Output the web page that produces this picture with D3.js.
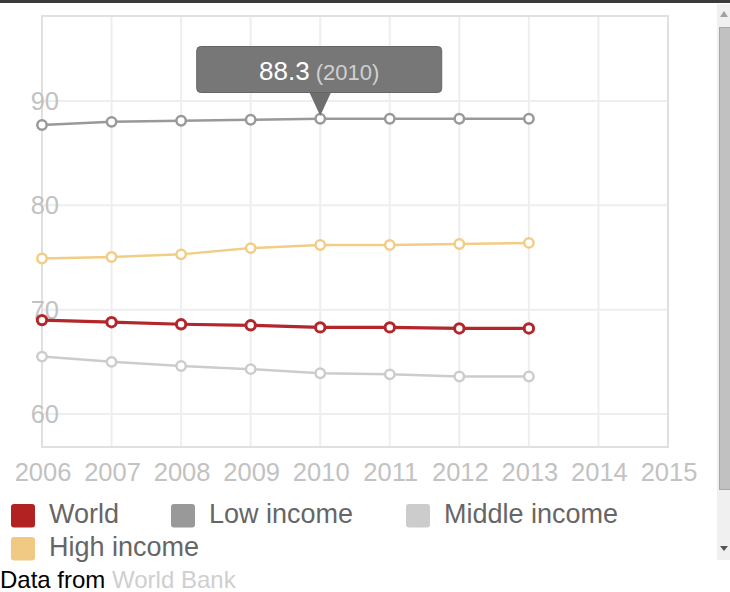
<!DOCTYPE html>
<html>
<head>
<meta charset="utf-8">
<script src="https://cdnjs.cloudflare.com/ajax/libs/d3/7.8.5/d3.min.js"></script>
<style>
	body { margin: 0; background: #fff; overflow: hidden; }
	svg { display: block; font-family: Arial, "Liberation Sans", sans-serif; }
</style>
</head>
<body>
<div id="draw"></div>
<script>
var years = [2006, 2007, 2008, 2009, 2010, 2011, 2012, 2013];
var xTicks = [2006, 2007, 2008, 2009, 2010, 2011, 2012, 2013, 2014, 2015];
var yTicks = [60, 70, 80, 90];
var names = ["World", "Low income", "Middle income", "High income"];
var world = [69.0, 68.8, 68.6, 68.5, 68.3, 68.3, 68.2, 68.2];
var lowIncome = [87.7, 88.0, 88.1, 88.2, 88.3, 88.3, 88.3, 88.3];
var middleIncome = [65.5, 65.0, 64.6, 64.3, 63.9, 63.8, 63.6, 63.6];
var highIncome = [74.9, 75.05, 75.3, 75.9, 76.2, 76.2, 76.3, 76.4];
var tipSeries = 1, tipIndex = 4;

function drawChart() {
	var width = 730, height = 592;
	var colors = ["#b3262b", "#999999", "#cccccc", "#f2cd86"];
	var swatch = ["#b22222", "#999999", "#cccccc", "#f0ca82"];
	var series = [world, lowIncome, middleIncome, highIncome];
	var top = 16, bottom = 447;

	var svg = d3.select("#draw").append("svg")
		.attr("width", width)
		.attr("height", height);

	var x = d3.scaleLinear().domain([2006, 2015]).range([42, 668]);
	var y = d3.scaleLinear().domain([60, 90]).range([414, 101]);

	// window chrome
	svg.append("rect").attr("x", 0).attr("y", 0).attr("width", width).attr("height", 3).attr("fill", "#3a3a3a");
	svg.append("rect").attr("x", 717).attr("y", 4).attr("width", 13).attr("height", 556).attr("fill", "#f0f0f0");
	svg.append("rect").attr("x", 719.5).attr("y", 27.5).attr("width", 11).attr("height", 462)
		.attr("fill", "#c1c1c1").attr("stroke", "#a8a8a8");
	svg.append("path").attr("d", "M720,17 L724,11 L728,17 Z").attr("fill", "#a0a0a0");
	svg.append("path").attr("d", "M720,546 L724,551 L728,546 Z").attr("fill", "#555");

	// grid
	svg.selectAll(".vgrid")
		.data(xTicks)
		.enter()
		.append("line")
		.attr("x1", function(d){ return x(d); })
		.attr("x2", function(d){ return x(d); })
		.attr("y1", top)
		.attr("y2", bottom)
		.attr("stroke", "#eeeeee")
		.attr("stroke-width", 2);
	svg.selectAll(".hgrid")
		.data(yTicks)
		.enter()
		.append("line")
		.attr("x1", x(2006))
		.attr("x2", x(2015))
		.attr("y1", function(d){ return y(d); })
		.attr("y2", function(d){ return y(d); })
		.attr("stroke", "#eeeeee")
		.attr("stroke-width", 2);
	svg.append("rect")
		.attr("x", x(2006))
		.attr("y", top)
		.attr("width", x(2015) - x(2006))
		.attr("height", bottom - top)
		.attr("fill", "none")
		.attr("stroke", "#e0e0e0")
		.attr("stroke-width", 2);

	// axis labels
	svg.selectAll(".xlab")
		.data(xTicks)
		.enter()
		.append("text")
		.attr("x", function(d){ return x(d) + 1; })
		.attr("y", 481)
		.attr("text-anchor", "middle")
		.attr("fill", "#c2c2c2")
		.style("font-size", "25.5px")
		.text(function(d){ return d; });
	svg.selectAll(".ylab")
		.data(yTicks)
		.enter()
		.append("text")
		.attr("x", 59)
		.attr("y", function(d){ return y(d) + 9; })
		.attr("text-anchor", "end")
		.attr("fill", "#c2c2c2")
		.style("font-size", "25.5px")
		.text(function(d){ return d; });

	// lines, back to front
	var line = d3.line()
		.x(function(d, i){ return x(years[i]); })
		.y(function(d){ return y(d); });
	var order = [2, 3, 1, 0];
	order.forEach(function(k){
		var g = svg.append("g");
		g.append("path")
			.attr("d", line(series[k]))
			.attr("fill", "none")
			.attr("stroke", colors[k])
			.attr("stroke-width", k == 0 ? 3.2 : 2.5);
		g.selectAll("circle")
			.data(series[k])
			.enter()
			.append("circle")
			.attr("cx", function(d, i){ return x(years[i]); })
			.attr("cy", function(d){ return y(d); })
			.attr("r", 4.7)
			.attr("fill", "#fff")
			.attr("stroke", colors[k])
			.attr("stroke-width", k == 0 ? 3 : 2.5);
	});

	// tooltip
	var tx = x(years[tipIndex]), ty = y(series[tipSeries][tipIndex]) - 3;
	var tip = svg.append("g");
	tip.append("path")
		.attr("d", "M" + (tx - 11) + ",92 L" + tx + "," + ty + " L" + (tx + 11) + ",92 Z")
		.attr("fill", "#6e6e6e");
	tip.append("rect")
		.attr("x", tx - 123.5)
		.attr("y", 46.5)
		.attr("width", 245)
		.attr("height", 46)
		.attr("rx", 4)
		.attr("fill", "#777777")
		.attr("stroke", "#666666");
	var tt = tip.append("text")
		.attr("x", tx - 1)
		.attr("y", 80)
		.attr("text-anchor", "middle");
	tt.append("tspan")
		.attr("fill", "#ffffff")
		.style("font-size", "26px")
		.text(series[tipSeries][tipIndex].toFixed(1));
	tt.append("tspan")
		.attr("fill", "#d0d0d0")
		.style("font-size", "22px")
		.text(" (" + years[tipIndex] + ")");

	// legend
	var legX = [11, 171, 406, 11];
	var legY = [504, 504, 504, 537];
	var leg = svg.selectAll(".leg")
		.data(names)
		.enter()
		.append("g")
		.attr("transform", function(d, i){ return "translate(" + legX[i] + "," + legY[i] + ")"; });
	leg.append("rect")
		.attr("width", 24)
		.attr("height", 23.5)
		.attr("rx", 3)
		.attr("fill", function(d, i){ return swatch[i]; });
	leg.append("text")
		.attr("x", 38)
		.attr("y", 19)
		.attr("fill", "#666666")
		.style("font-size", "27px")
		.text(function(d){ return d; });

	var src = svg.append("text")
		.attr("x", 0)
		.attr("y", 588)
		.style("font-size", "24px");
	src.append("tspan").attr("fill", "#000").text("Data from ");
	src.append("tspan").attr("fill", "#cfcfcf").text("World Bank");
}

drawChart();
</script>
</body>
</html>
